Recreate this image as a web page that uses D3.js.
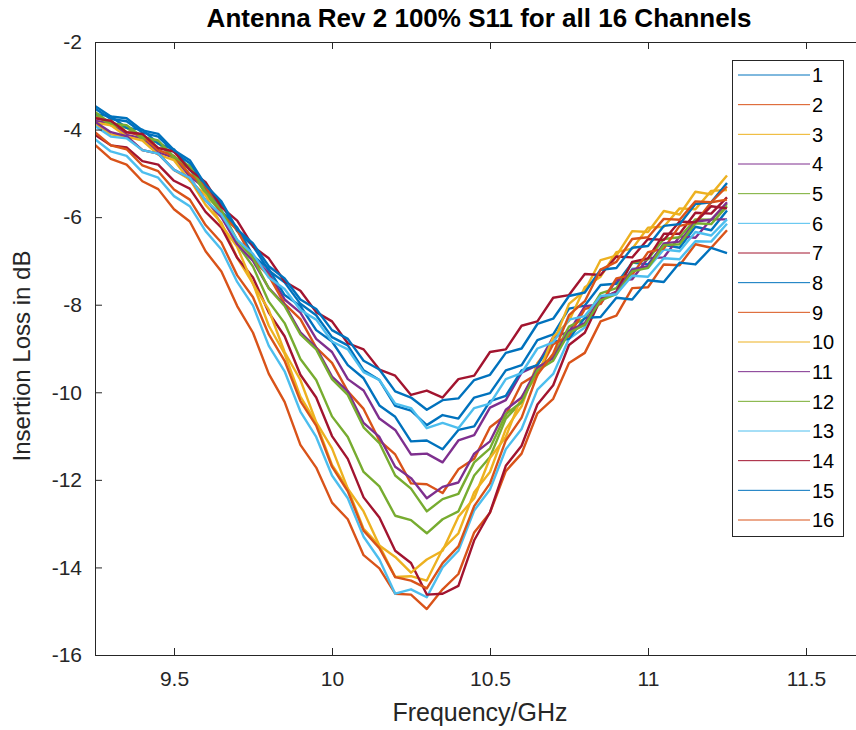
<!DOCTYPE html>
<html><head><meta charset="utf-8">
<script src="https://cdn.jsdelivr.net/npm/d3@7"></script>
<style>
body{margin:0;background:#fff}
svg{display:block}
text{font-family:"Liberation Sans",Arial,Helvetica,sans-serif}
</style>
</head><body>
<svg id="chart" width="856" height="730"></svg>
<script>
// ---------------- data ----------------
const chartTitle = "Antenna Rev 2 100% S11 for all 16 Channels";
const xLabel = "Frequency/GHz";
const yLabel = "Insertion Loss in dB";
const xDomain = [9.25, 11.75];
const yDomain = [-16, -2];
const xTicks = [9.5, 10, 10.5, 11, 11.5];
const yTicks = [-2, -4, -6, -8, -10, -12, -14, -16];
const channels = ["1","2","3","4","5","6","7","8","9","10","11","12","13","14","15","16"];
const palette = ["#0072BD","#D95319","#EDB120","#7E2F8E","#77AC30","#4DBEEE","#A2142F"];

const freq = [9.25,9.30,9.35,9.40,9.45,9.50,9.55,9.60,9.65,9.70,9.75,9.80,9.85,9.90,9.95,10.00,10.05,10.10,10.15,10.20,10.25,10.30,10.35,10.40,10.45,10.50,10.55,10.60,10.65,10.70,10.75,10.80,10.85,10.90,10.95,11.00,11.05,11.10,11.15,11.20,11.25];

const ch1  = [-3.52,-3.76,-3.81,-4.07,-4.16,-4.51,-4.77,-5.31,-5.7,-6.32,-6.66,-7.22,-7.49,-7.98,-8.24,-8.74,-8.93,-9.5,-9.72,-10.31,-10.42,-10.75,-10.52,-10.6,-10.12,-10.02,-9.5,-9.38,-8.81,-8.68,-8.09,-8.02,-7.55,-7.52,-7.04,-7.08,-6.63,-6.7,-6.22,-6.3,-5.85];
const ch2  = [-4.35,-4.67,-4.8,-5.18,-5.36,-5.82,-6.1,-6.78,-7.24,-8.03,-8.64,-9.58,-10.22,-11.2,-11.72,-12.52,-12.9,-13.72,-14.02,-14.6,-14.62,-14.95,-14.5,-14.15,-13.2,-12.75,-11.8,-11.4,-10.48,-10.15,-9.33,-9.1,-8.38,-8.25,-7.62,-7.6,-7.08,-7.1,-6.62,-6.7,-6.3];
const ch3  = [-3.86,-4.11,-4.16,-4.47,-4.55,-4.92,-5.14,-5.72,-6.13,-6.93,-7.52,-8.48,-9.12,-10.1,-10.7,-11.66,-12.2,-13.12,-13.5,-14.22,-14.2,-14.3,-13.58,-13.22,-12.28,-11.82,-10.84,-10.32,-9.33,-8.88,-7.98,-7.68,-6.98,-6.88,-6.32,-6.34,-5.86,-5.94,-5.42,-5.48,-5.05];
const ch4  = [-3.8,-3.85,-4.12,-4.2,-4.52,-4.64,-5.07,-5.34,-5.92,-6.28,-6.92,-7.28,-7.88,-8.18,-8.78,-9.08,-9.7,-9.96,-10.6,-10.86,-11.42,-11.4,-11.6,-11.1,-10.98,-10.35,-10.18,-9.55,-9.38,-8.74,-8.62,-8.04,-7.98,-7.44,-7.42,-6.94,-6.92,-6.44,-6.47,-6.05,-6.05];
const ch5  = [-3.66,-3.9,-3.96,-4.21,-4.3,-4.67,-4.9,-5.47,-5.9,-6.62,-7.13,-7.93,-8.42,-9.24,-9.72,-10.55,-11.02,-11.82,-12.15,-12.82,-12.92,-13.22,-12.9,-12.72,-11.9,-11.48,-10.6,-10.22,-9.44,-9.18,-8.5,-8.32,-7.74,-7.62,-7.05,-6.96,-6.5,-6.46,-6.05,-6.06,-5.7];
const ch6  = [-4.22,-4.5,-4.6,-4.97,-5.1,-5.52,-5.75,-6.32,-6.74,-7.48,-8.02,-8.94,-9.52,-10.44,-11.02,-11.9,-12.42,-13.3,-13.82,-14.6,-14.5,-14.68,-14.0,-13.62,-12.7,-12.22,-11.3,-10.84,-9.94,-9.58,-8.78,-8.52,-7.84,-7.72,-7.18,-7.16,-6.74,-6.78,-6.34,-6.42,-6.05];
const ch7  = [-4.12,-4.36,-4.41,-4.72,-4.8,-5.17,-5.35,-5.88,-6.24,-6.93,-7.38,-8.18,-8.72,-9.6,-10.12,-11.0,-11.52,-12.4,-12.86,-13.62,-13.9,-14.62,-14.6,-14.42,-13.38,-12.74,-11.68,-11.22,-10.28,-9.84,-8.92,-8.64,-7.88,-7.7,-7.02,-6.94,-6.38,-6.38,-5.9,-5.92,-5.55];
const ch8  = [-3.64,-3.7,-3.96,-4.0,-4.32,-4.45,-4.92,-5.24,-5.87,-6.24,-6.88,-7.18,-7.78,-8.03,-8.58,-8.84,-9.38,-9.68,-10.3,-10.56,-11.12,-11.1,-11.3,-10.86,-10.78,-10.2,-10.08,-9.5,-9.38,-8.85,-8.78,-8.3,-8.28,-7.84,-7.88,-7.44,-7.48,-7.04,-7.08,-6.7,-6.82];
const ch9  = [-3.73,-3.8,-4.06,-4.14,-4.47,-4.6,-5.02,-5.3,-5.92,-6.3,-6.97,-7.34,-7.98,-8.33,-8.98,-9.33,-9.98,-10.38,-11.1,-11.42,-12.08,-12.1,-12.3,-11.76,-11.52,-10.8,-10.52,-9.8,-9.58,-8.9,-8.72,-8.1,-7.98,-7.4,-7.32,-6.8,-6.72,-6.2,-6.12,-5.66,-5.6];
const ch10 = [-3.84,-3.9,-4.16,-4.25,-4.57,-4.7,-5.17,-5.5,-6.18,-6.68,-7.53,-8.12,-9.08,-9.72,-10.68,-11.28,-12.2,-12.72,-13.5,-13.76,-14.12,-13.82,-13.62,-12.84,-12.42,-11.5,-11.02,-10.1,-9.62,-8.74,-8.37,-7.6,-7.36,-6.8,-6.72,-6.24,-6.22,-5.8,-5.82,-5.4,-5.38];
const ch11 = [-3.82,-4.06,-4.15,-4.47,-4.55,-4.92,-5.1,-5.62,-6.0,-6.62,-7.0,-7.62,-8.0,-8.63,-8.98,-9.64,-9.98,-10.7,-11.02,-11.7,-11.96,-12.42,-12.16,-12.06,-11.4,-11.12,-10.4,-10.12,-9.44,-9.22,-8.6,-8.42,-7.84,-7.72,-7.2,-7.12,-6.6,-6.56,-6.1,-6.06,-5.66];
const ch12 = [-3.6,-3.86,-3.9,-4.17,-4.25,-4.62,-4.84,-5.42,-5.84,-6.53,-6.93,-7.63,-8.03,-8.68,-9.02,-9.7,-10.06,-10.8,-11.16,-11.9,-12.2,-12.72,-12.44,-12.32,-11.6,-11.28,-10.5,-10.22,-9.5,-9.28,-8.64,-8.46,-7.9,-7.76,-7.24,-7.16,-6.64,-6.62,-6.14,-6.16,-5.75];
const ch13 = [-3.92,-4.16,-4.2,-4.47,-4.55,-4.92,-5.1,-5.62,-5.94,-6.52,-6.84,-7.38,-7.64,-8.12,-8.34,-8.84,-9.02,-9.54,-9.72,-10.26,-10.36,-10.82,-10.7,-10.82,-10.36,-10.26,-9.7,-9.56,-9.0,-8.86,-8.34,-8.26,-7.8,-7.76,-7.34,-7.36,-6.94,-6.96,-6.55,-6.56,-6.15];
const ch14 = [-3.74,-3.8,-4.06,-4.1,-4.42,-4.5,-4.92,-5.2,-5.77,-6.08,-6.67,-6.94,-7.47,-7.68,-8.17,-8.38,-8.88,-9.02,-9.48,-9.62,-10.06,-9.96,-10.12,-9.7,-9.62,-9.08,-9.02,-8.48,-8.38,-7.84,-7.78,-7.3,-7.32,-6.9,-6.92,-6.5,-6.52,-6.1,-6.12,-5.75,-5.8];
const ch15 = [-3.46,-3.7,-3.74,-4.02,-4.1,-4.47,-4.7,-5.27,-5.64,-6.28,-6.6,-7.12,-7.4,-7.88,-8.1,-8.58,-8.78,-9.28,-9.48,-9.98,-10.12,-10.4,-10.18,-10.14,-9.72,-9.6,-9.1,-9.0,-8.44,-8.32,-7.8,-7.72,-7.2,-7.16,-6.7,-6.66,-6.2,-6.16,-5.7,-5.66,-5.22];
const ch16 = [-4.06,-4.36,-4.45,-4.82,-4.95,-5.37,-5.6,-6.18,-6.58,-7.33,-7.83,-8.68,-9.28,-10.2,-10.76,-11.7,-12.26,-13.16,-13.56,-14.22,-14.3,-14.48,-13.9,-13.52,-12.6,-12.08,-11.1,-10.58,-9.6,-9.12,-8.24,-7.92,-7.2,-7.02,-6.5,-6.46,-6.04,-6.06,-5.64,-5.66,-5.3];

const seriesValues = [ch1,ch2,ch3,ch4,ch5,ch6,ch7,ch8,ch9,ch10,ch11,ch12,ch13,ch14,ch15,ch16];

// ---------------- drawing ----------------
const svg = d3.select("#chart");
const axisColor = "#262626";
const plot = {left:95, right:885, top:42, bottom:655};

const x = d3.scaleLinear().domain(xDomain).range([plot.left, plot.right]);
const y = d3.scaleLinear().domain(yDomain).range([plot.bottom, plot.top]);
const color = d3.scaleOrdinal().domain(channels).range(palette);

svg.append("rect").attr("width",856).attr("height",730).attr("fill","#fff");

svg.append("defs").append("clipPath").attr("id","clip")
  .append("rect").attr("x",plot.left).attr("y",plot.top)
  .attr("width",plot.right-plot.left).attr("height",plot.bottom-plot.top);

const line = d3.line().x(d=>x(d[0])).y(d=>y(d[1]));
const g = svg.append("g").attr("clip-path","url(#clip)");
channels.forEach((c,i)=>{
  const pts = freq.map((f,j)=>[f, seriesValues[i][j]]);
  g.append("path").datum(pts)
    .attr("d", line)
    .attr("fill","none")
    .attr("stroke", color(c))
    .attr("stroke-width", 2.4)
    .attr("stroke-linejoin","round");
});

// axes
const fmt = d => String(d);
const xAxisB = d3.axisBottom(x).tickValues(xTicks).tickFormat(fmt).tickSizeInner(-7).tickSizeOuter(0).tickPadding(16);
const xAxisT = d3.axisTop(x).tickValues(xTicks).tickFormat("").tickSizeInner(-7).tickSizeOuter(0);
const yAxisL = d3.axisLeft(y).tickValues(yTicks).tickFormat(fmt).tickSizeInner(-7).tickSizeOuter(0).tickPadding(13);

function styleAxis(sel){
  sel.select(".domain").attr("stroke",axisColor).attr("stroke-width",1);
  sel.selectAll(".tick line").attr("stroke",axisColor).attr("stroke-width",1);
  sel.selectAll(".tick text").attr("fill",axisColor).style("font-size","21px")
     .style("font-family",'"Liberation Sans",Arial,sans-serif');
}
svg.append("g").attr("transform",`translate(0,${plot.bottom})`).call(xAxisB).call(styleAxis);
svg.append("g").attr("transform",`translate(0,${plot.top})`).call(xAxisT).call(styleAxis);
svg.append("g").attr("transform",`translate(${plot.left},0)`).call(yAxisL).call(styleAxis);

// title & labels
svg.append("text").attr("x",479).attr("y",27).attr("text-anchor","middle")
  .style("font-size","26px").style("font-weight","bold").attr("fill","#000").text(chartTitle);
svg.append("text").attr("x",480).attr("y",721).attr("text-anchor","middle")
  .style("font-size","25px").attr("fill",axisColor).text(xLabel);
svg.append("text").attr("transform","translate(30,356) rotate(-90)").attr("text-anchor","middle")
  .style("font-size","24px").attr("fill",axisColor).text(yLabel);

// legend
const leg = svg.append("g");
const legY = d3.scalePoint().domain(channels).range([75, 520]);
leg.append("rect").attr("x",732.5).attr("y",60.5).attr("width",111).attr("height",476)
  .attr("fill","#fff").attr("stroke",axisColor).attr("stroke-width",1);
channels.forEach(c=>{
  leg.append("line").attr("x1",738).attr("x2",810).attr("y1",legY(c)).attr("y2",legY(c))
    .attr("stroke",color(c)).attr("stroke-width",1);
  leg.append("text").attr("x",812).attr("y",legY(c)).attr("dy","0.36em")
    .style("font-size","20px").attr("fill","#000").text(c);
});
</script>
</body></html>
